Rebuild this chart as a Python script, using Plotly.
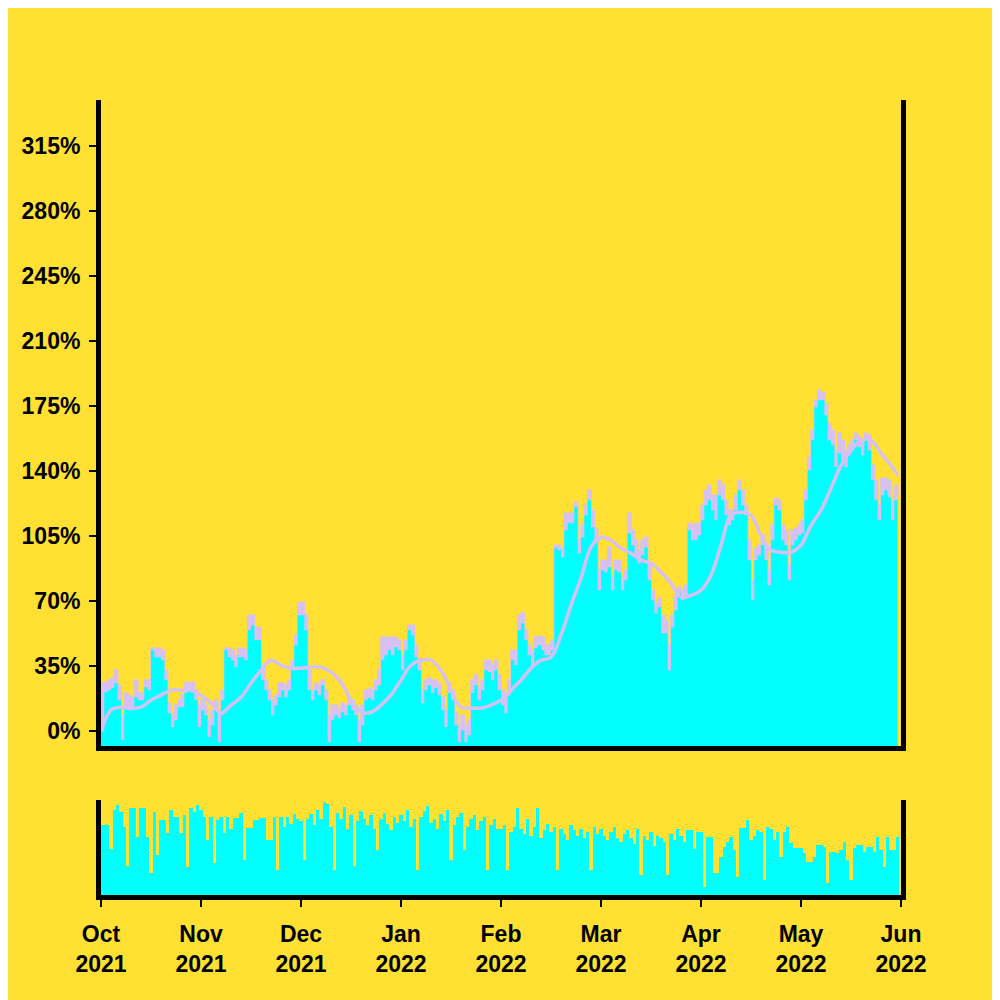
import plotly.graph_objects as go

# ---- data (percent change) ----
month_labels = ["Oct<br>2021", "Nov<br>2021", "Dec<br>2021", "Jan<br>2022", "Feb<br>2022",
                "Mar<br>2022", "Apr<br>2022", "May<br>2022", "Jun<br>2022"]
month_ticks = [0, 30, 60, 90, 120, 150, 180, 210, 240]

close_pct = [
    0.0, 21.0, 22.1, 23.2, 25.8, 16.7, -4.8, 12.9, 11.3, 11.3, 18.3, 16.7, 16.7, 23.7, 22.1,
    43.6, 39.8, 39.8, 38.2, 27.5, 9.7, 2.2, 5.9, 12.9, 12.9, 20.5, 22.1, 20.5, 16.7, 2.2,
    11.3, 8.6, -3.2, 3.2, 11.3, -5.9, 16.7, 43.6, 39.8, 38.2, 34.5, 39.8, 39.8, 38.2, 54.4,
    57.1, 49.0, 49.0, 27.5, 22.1, 16.7, 8.6, 14.0, 18.3, 22.1, 18.3, 22.1, 32.8, 46.3, 62.5,
    62.5, 54.4, 22.1, 16.7, 22.1, 19.4, 24.8, 16.7, -5.9, 5.9, 8.6, 7.0, 10.2, 8.6, 14.0,
    11.3, 8.6, -5.9, 3.2, 16.7, 17.8, 16.7, 22.1, 24.8, 38.2, 40.9, 43.6, 40.9, 45.2, 43.6,
    32.8, 43.6, 54.4, 51.7, 39.8, 32.8, 15.1, 22.1, 24.8, 20.5, 23.2, 19.4, 11.3, 2.2, 20.5,
    16.7, 3.2, -5.9, 0.5, -5.9, -2.2, 20.5, 24.8, 16.7, 22.1, 32.8, 31.8, 27.5, 32.8, 22.1,
    14.0, 9.7, 19.4, 38.2, 35.5, 54.4, 58.2, 49.0, 40.9, 34.5, 44.7, 46.3, 43.6, 40.9, 40.9,
    43.6, 98.5, 97.5, 93.7, 108.2, 112.0, 112.0, 120.6, 95.8, 104.5, 116.3, 124.4, 109.8, 102.8, 75.9,
    86.7, 85.6, 88.3, 75.9, 86.7, 85.6, 75.9, 81.3, 106.6, 100.2, 93.7, 90.5, 94.8, 99.1, 81.3,
    70.5, 63.5, 66.8, 52.8, 52.8, 32.8, 56.0, 65.2, 74.3, 70.5, 73.2, 108.2, 102.8, 102.8, 105.5,
    113.6, 121.7, 124.4, 119.0, 113.6, 127.1, 124.4, 116.3, 110.9, 113.6, 119.0, 129.8, 121.7, 116.3, 92.1,
    70.5, 92.1, 94.8, 100.2, 92.1, 78.6, 102.8, 121.7, 119.0, 102.8, 100.2, 81.3, 100.2, 102.8, 105.5,
    106.6, 124.4, 140.5, 156.7, 174.5, 178.2, 178.2, 170.2, 156.7, 154.0, 142.2, 149.7, 145.9, 142.2, 148.6,
    151.3, 156.7, 152.9, 148.6, 156.7, 151.3, 135.2, 124.4, 113.6, 127.1, 129.8, 126.0, 113.6, 124.4, 121.7,
]

high_pct = [
    25.8, 26.4, 27.5, 28.5, 32.8, 24.8, 8.6, 20.5, 19.4, 18.3, 27.5, 20.5, 20.5, 27.5, 27.5,
    44.7, 44.7, 44.7, 43.6, 32.8, 15.1, 8.6, 14.0, 16.7, 19.4, 25.8, 26.4, 26.4, 22.1, 14.0,
    16.7, 14.0, 5.9, 11.3, 16.7, 10.2, 22.1, 44.7, 44.7, 43.6, 40.9, 44.7, 44.7, 43.6, 62.5,
    62.5, 56.0, 56.0, 35.5, 27.5, 22.1, 16.7, 19.4, 25.8, 25.8, 24.8, 27.5, 38.2, 51.7, 68.9,
    69.5, 62.5, 32.8, 22.1, 25.8, 24.8, 27.5, 22.1, 8.6, 14.0, 14.0, 11.3, 15.1, 14.0, 18.3,
    16.7, 14.0, 5.9, 14.0, 22.1, 23.2, 22.1, 27.5, 32.8, 50.6, 50.6, 50.6, 50.6, 50.6, 49.0,
    40.9, 49.0, 57.1, 57.1, 46.3, 38.2, 22.1, 27.5, 28.5, 27.5, 27.5, 25.8, 18.3, 11.3, 25.8,
    22.1, 10.2, 3.2, 8.6, 3.2, 5.9, 27.5, 30.2, 23.2, 27.5, 38.2, 38.2, 35.5, 38.2, 30.2,
    22.1, 17.8, 27.5, 43.6, 43.6, 62.5, 63.5, 54.4, 46.3, 43.6, 50.6, 51.2, 50.6, 46.3, 46.3,
    49.0, 100.2, 100.2, 98.5, 117.4, 117.4, 117.4, 123.3, 102.8, 110.9, 121.7, 129.8, 119.0, 109.3, 86.7,
    92.1, 92.1, 99.1, 84.0, 92.1, 92.1, 82.4, 86.7, 117.4, 108.2, 102.8, 97.5, 102.8, 104.5, 89.4,
    75.9, 68.9, 71.6, 62.5, 59.8, 46.3, 62.5, 73.2, 77.5, 75.9, 78.6, 112.0, 110.9, 112.0, 112.0,
    121.7, 129.8, 132.5, 127.1, 127.1, 135.2, 132.5, 124.4, 119.0, 119.0, 127.1, 135.2, 129.8, 121.7, 102.8,
    81.3, 98.5, 100.2, 105.5, 98.5, 86.7, 110.9, 125.5, 124.4, 110.9, 108.2, 89.4, 108.2, 109.3, 110.9,
    113.6, 129.8, 147.5, 162.1, 178.2, 183.6, 182.5, 176.6, 165.8, 162.1, 151.3, 160.5, 156.7, 151.3, 154.0,
    156.7, 160.5, 158.3, 156.7, 160.5, 159.4, 143.2, 135.2, 121.7, 136.2, 136.2, 135.2, 124.4, 132.5, 127.1,
]

ma_days = [0, 3, 6, 9, 12, 15, 18, 21, 24, 27, 30, 33, 36, 39, 42, 45, 48, 51, 54, 57,
           60, 63, 66, 69, 72, 75, 78, 81, 84, 87, 90, 93, 96, 99, 102, 105, 108, 111, 114, 117,
           120, 123, 126, 129, 132, 135, 138, 141, 144, 147, 150, 153, 156, 159, 162, 165, 168, 171, 174, 177,
           180, 183, 186, 189, 192, 195, 198, 201, 204, 207, 210, 213, 216, 219, 222, 225, 228, 231, 234, 237, 239]
ma_pct = [0.0, 11.3, 12.9, 12.4, 12.9, 16.7, 19.4, 22.1, 22.1, 22.1, 19.4, 15.1, 9.7, 14.0, 18.3,
          25.8, 32.8, 38.2, 35.5, 33.9, 33.9, 34.5, 34.5, 31.8, 26.4, 16.7, 10.2, 10.2, 14.0, 19.4,
          27.5, 35.5, 38.2, 38.2, 32.8, 22.1, 12.9, 12.4, 12.4, 14.0, 16.7, 22.1, 27.5, 33.9, 38.2,
          39.8, 51.7, 67.8, 82.4, 99.1, 104.5, 102.8, 98.5, 95.8, 92.1, 90.5, 85.6, 79.7, 72.2, 73.2,
          75.9, 84.0, 100.2, 116.3, 117.9, 116.3, 105.5, 97.5, 96.4, 96.4, 100.2, 110.9, 119.0, 130.8, 143.2,
          151.3, 156.7, 156.7, 149.7, 143.2, 137.8]

volume = [
    74, 74, 74, 48, 89, 95, 87, 72, 31, 92, 92, 61, 92, 92, 61, 23, 87, 42, 79, 79,
    65, 89, 82, 82, 65, 84, 30, 92, 87, 95,
    90, 82, 58, 82, 34, 79, 82, 65, 82, 70, 81, 81, 86, 37, 71, 71, 79, 79, 81, 81,
    58, 58, 82, 26, 82, 72, 82, 75, 85, 80,
    78, 37, 80, 85, 74, 90, 80, 98, 96, 72, 26, 86, 80, 93, 70, 84, 31, 78, 88, 80,
    74, 84, 70, 47, 80, 86, 75, 68, 82, 76,
    84, 78, 90, 72, 80, 26, 82, 88, 94, 76, 80, 70, 85, 78, 90, 37, 74, 82, 86, 47,
    72, 80, 84, 68, 78, 82, 26, 74, 80, 70,
    70, 74, 26, 66, 72, 92, 70, 64, 80, 62, 72, 92, 60, 68, 75, 66, 72, 26, 70, 64,
    58, 74, 68, 62, 70, 60, 66, 26, 72, 64,
    70, 62, 58, 66, 72, 60, 56, 64, 68, 60, 54, 70, 21, 62, 58, 66, 52, 62, 60, 56,
    21, 64, 58, 70, 62, 56, 68, 68, 48, 66,
    66, 8, 61, 61, 23, 23, 40, 51, 56, 61, 47, 19, 71, 71, 79, 58, 62, 68, 66, 16,
    72, 70, 58, 66, 40, 66, 72, 55, 49, 50,
    50, 44, 35, 35, 40, 53, 53, 51, 13, 45, 45, 44, 47, 56, 37, 16, 49, 53, 53, 45,
    51, 51, 45, 61, 47, 29, 61, 47, 47, 61,
]

days = list(range(len(close_pct)))
y_ticks = [0, 35, 70, 105, 140, 175, 210, 245, 280, 315]
Y_MIN, Y_MAX = -8, 340

BG = "#FFE033"
CYAN = "#00FFFF"
LAV = "#D6C1F2"
FONT = dict(family="Liberation Sans, Arial, sans-serif", size=23, color="black", weight="bold")

fig = go.Figure()
base = [Y_MIN] * len(days)
fig.add_trace(go.Scatter(x=days, y=base, mode="lines", line=dict(width=0, shape="hv"),
                         hoverinfo="skip", showlegend=False))
fig.add_trace(go.Scatter(x=days, y=high_pct, mode="lines", line=dict(width=1.5, color=LAV, shape="hv"),
                         fill="tonexty", fillcolor=LAV, showlegend=False))
fig.add_trace(go.Scatter(x=days, y=base, mode="lines", line=dict(width=0, shape="hv"),
                         hoverinfo="skip", showlegend=False))
fig.add_trace(go.Scatter(x=days, y=close_pct, mode="lines", line=dict(width=0, color=CYAN, shape="hv"),
                         fill="tonexty", fillcolor=CYAN, showlegend=False))
fig.add_trace(go.Scatter(x=ma_days, y=ma_pct, mode="lines", line=dict(width=3.5, color=LAV, shape="spline"),
                         showlegend=False))
fig.add_trace(go.Bar(x=days, y=volume, marker=dict(color=CYAN, line=dict(width=0)),
                     xaxis="x2", yaxis="y2", showlegend=False))

axis_common = dict(showgrid=False, zeroline=False, showline=True, linecolor="black", linewidth=5)

fig.update_layout(
    width=1000, height=1000,
    paper_bgcolor=BG, plot_bgcolor=BG,
    margin=dict(l=93, r=107, t=92, b=113),
    bargap=0,
    font=FONT,
    xaxis=dict(domain=[0, 1], range=[0, 240], anchor="y", showticklabels=False, ticks="",
               **axis_common),
    yaxis=dict(domain=[0.1874, 1], range=[Y_MIN, Y_MAX], anchor="x", mirror=True,
               tickvals=y_ticks, ticktext=[f"{v}%" for v in y_ticks],
               ticks="outside", ticklen=7, tickwidth=2, tickcolor="black", tickfont=FONT,
               ticklabelstandoff=4, **axis_common),
    xaxis2=dict(domain=[0, 1], range=[0, 240], anchor="y2", matches="x",
                tickvals=month_ticks, ticktext=month_labels, ticks="outside", ticklen=7,
                tickwidth=2, tickcolor="black", tickfont=FONT, ticklabelstandoff=7,
                **axis_common),
    yaxis2=dict(domain=[0, 0.1195], range=[0, 100], anchor="x2", mirror=True,
                showticklabels=False, ticks="", **axis_common),
)

fig.write_html("out.html")
